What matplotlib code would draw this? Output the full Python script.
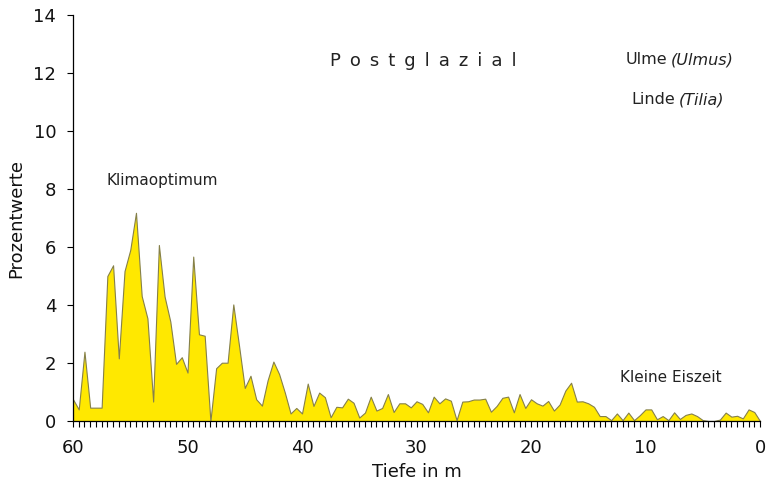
import numpy as np
import matplotlib
matplotlib.use('Agg')
import matplotlib.pyplot as plt
from matplotlib.ticker import MultipleLocator

# Ulme + Linde pollen percentages, one sample every 0.5 m (60 m -> 0 m)
depth = np.linspace(60, 0, 121)
percent = [
    0.75, 0.40, 2.39, 0.46, 0.46, 0.46, 5.00, 5.37, 2.16, 5.17,   # 60.0 - 55.5
    5.90, 7.18, 4.31, 3.54, 0.67, 6.07, 4.29, 3.43, 1.97, 2.20,   # 55.0 - 50.5
    1.67, 5.67, 2.99, 2.94, 0.00, 1.82, 2.01, 2.01, 4.02, 2.60,   # 50.0 - 45.5
    1.14, 1.56, 0.75, 0.53, 1.41, 2.05, 1.62, 0.98, 0.26, 0.45,   # 45.0 - 40.5
    0.26, 1.29, 0.52, 0.98, 0.82, 0.13, 0.49, 0.47, 0.77, 0.63,   # 40.0 - 35.5
    0.12, 0.29, 0.84, 0.36, 0.45, 0.93, 0.31, 0.61, 0.61, 0.47,   # 35.0 - 30.5
    0.68, 0.59, 0.30, 0.84, 0.61, 0.78, 0.70, 0.03, 0.67, 0.68,   # 30.0 - 25.5
    0.74, 0.74, 0.77, 0.32, 0.52, 0.80, 0.84, 0.30, 0.93, 0.45,   # 25.0 - 20.5
    0.75, 0.61, 0.53, 0.69, 0.36, 0.57, 1.05, 1.32, 0.67, 0.68,   # 20.0 - 15.5
    0.61, 0.49, 0.17, 0.17, 0.03, 0.26, 0.03, 0.29, 0.03, 0.20,   # 15.0 - 10.5
    0.40, 0.40, 0.06, 0.17, 0.03, 0.30, 0.07, 0.21, 0.26, 0.17,   # 10.0 - 5.5
    0.03, 0.00, 0.00, 0.05, 0.29, 0.15, 0.18, 0.09, 0.40, 0.31,   # 5.0 - 0.5
    0.00,                                                         # 0.0
]
assert len(percent) == len(depth)

W, H = 766, 486
fig = plt.figure(figsize=(W / 100, H / 100), dpi=100)
# axes box in pixels: x 73..760, y 15..421
X0, X1, Y0, Y1 = 73, 760, 15, 421
ax = fig.add_axes([X0 / W, 1 - Y1 / H, (X1 - X0) / W, (Y1 - Y0) / H])

ax.fill_between(depth, percent, 0, facecolor='#FFE800', edgecolor='#85804a',
                linewidth=0.8, zorder=2)

ax.set_xlim(60, 0)
ax.set_ylim(0, 14)
ax.xaxis.set_major_locator(MultipleLocator(10))
ax.xaxis.set_minor_locator(MultipleLocator(0.5))
ax.yaxis.set_major_locator(MultipleLocator(2))

for s in ['top', 'right']:
    ax.spines[s].set_visible(False)
for s in ['left', 'bottom']:
    ax.spines[s].set_linewidth(0.9)
    ax.spines[s].set_zorder(3)

ax.tick_params(axis='both', which='major', direction='out', length=4, width=0.8,
               labelsize=13, colors='black', labelcolor='#111111')
ax.tick_params(axis='x', which='major', pad=9)
ax.tick_params(axis='y', which='major', pad=8)
ax.tick_params(axis='x', which='minor', direction='out', length=4, width=0.8)

ax.set_xlabel('Tiefe in m', fontsize=13, color='#111111', labelpad=4)
ax.set_ylabel('Prozentwerte', fontsize=13, color='#111111', labelpad=6)


def px(x, y):
    # pixel position in the picture -> data coords
    return 60 - (x - X0) * 60 / (X1 - X0), (Y1 - y) * 14 / (Y1 - Y0)


# letter-spaced title, en spaces between letters
ax.text(*px(423, 61), '\u2002'.join('Postglazial'), fontsize=13, ha='center',
        va='center', color='#222222')
ax.text(*px(667, 60), 'Ulme', fontsize=11.5, ha='right', va='center', color='#222222')
ax.text(*px(671, 60), '(Ulmus)', fontsize=11.5, ha='left', va='center',
        style='italic', color='#222222')
ax.text(*px(675, 100), 'Linde', fontsize=11.5, ha='right', va='center', color='#222222')
ax.text(*px(679, 100), '(Tilia)', fontsize=11.5, ha='left', va='center',
        style='italic', color='#222222')
ax.text(*px(162, 180), 'Klimaoptimum', fontsize=11, ha='center', va='center',
        color='#222222')
ax.text(*px(671, 377), 'Kleine Eiszeit', fontsize=11, ha='center', va='center',
        color='#222222')

fig.savefig('out.png', dpi=100, facecolor='white')
